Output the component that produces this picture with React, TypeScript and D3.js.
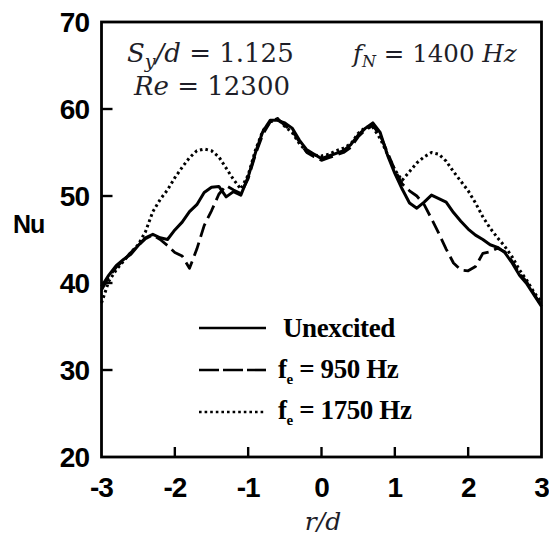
import React from "react";
import * as d3 from "d3";

const rd = [
  -3.0, -2.9, -2.8, -2.7, -2.6, -2.5, -2.4, -2.3, -2.2, -2.1,
  -2.0, -1.9, -1.8, -1.7, -1.6, -1.5, -1.4, -1.3, -1.2, -1.1,
  -1.0, -0.9, -0.8, -0.7, -0.6, -0.5, -0.4, -0.3, -0.2, -0.1,
  0.0, 0.1, 0.2, 0.3, 0.4, 0.5, 0.6, 0.7, 0.8, 0.9,
  1.0, 1.1, 1.2, 1.3, 1.4, 1.5, 1.6, 1.7, 1.8, 1.9,
  2.0, 2.1, 2.2, 2.3, 2.4, 2.5, 2.6, 2.7, 2.8, 2.9, 3.0,
];

const unexcited = [
  39.6, 40.9, 42.0, 42.7, 43.3, 44.3, 45.2, 45.6, 45.2, 45.0,
  46.1, 47.0, 48.2, 49.0, 50.4, 51.0, 51.1, 49.9, 50.5, 50.1,
  52.2, 55.0, 57.4, 58.7, 58.7, 58.4, 57.8, 56.4, 55.3, 54.8,
  54.3, 54.6, 54.9, 55.2, 55.9, 57.0, 57.8, 58.4, 57.3, 54.7,
  52.6, 50.8, 49.2, 48.6, 49.3, 50.1, 49.7, 49.3, 48.1, 47.1,
  46.2, 45.5, 45.0, 44.4, 44.1, 43.5, 42.3, 40.9, 39.9, 38.6, 37.3,
];

const fe950 = [
  39.2, 40.7, 41.8, 42.6, 43.5, 44.3, 45.1, 45.5, 45.0, 44.3,
  43.5, 43.1, 41.7, 43.9, 46.6, 48.3, 50.2, 51.2, 50.7, 50.3,
  52.0, 54.8, 57.1, 58.5, 58.9, 58.1, 57.5, 56.2, 55.0, 54.5,
  54.1, 54.4, 54.7, 55.0, 55.6, 56.8, 57.6, 58.1, 57.0, 55.0,
  53.0, 51.4, 50.6, 50.0, 49.0, 47.4, 45.7, 43.9, 42.3, 41.5,
  41.4, 41.9, 43.4, 43.6, 44.0, 43.6, 42.5, 41.1, 40.1, 38.7, 37.4,
];

const fe1750 = [
  37.7, 40.2, 41.5, 42.5, 43.5, 44.4, 45.9, 48.2, 49.6, 50.7,
  52.1, 53.3, 54.4, 55.2, 55.4, 55.2, 54.5, 53.2, 51.9, 50.8,
  52.4, 55.3, 57.5, 58.5, 58.9, 58.0, 57.3, 56.0, 55.1, 54.7,
  54.6, 54.8, 55.2, 55.5, 56.0, 57.2, 57.9, 57.9, 56.6, 54.8,
  53.0, 51.8, 52.8, 53.8, 54.5, 55.0, 54.8, 54.0, 52.8, 51.7,
  50.6, 49.2, 47.6, 46.3, 45.2, 44.2, 43.0, 41.5, 40.3, 38.9, 37.8,
];

const yTicks = [20, 30, 40, 50, 60, 70];
const xTicks = [-3, -2, -1, 0, 1, 2, 3];

const seriesNames = ["Unexcited", "950", "1750"];

export default function App() {
  const W = 549;
  const H = 537;
  const left = 101.5, right = 541.5, top = 22, bottom = 457;
  const x = d3.scaleLinear().domain([-3, 3]).range([left, right]);
  const y = d3.scaleLinear().domain([20, 70]).range([bottom, top]);

  const line = d3
    .line<number>()
    .x((_, i) => x(rd[i]))
    .y((d) => y(d))
    .curve(d3.curveLinear);

  const sans = "'Liberation Sans', Arial, sans-serif";
  const serif = "'Liberation Serif', 'Times New Roman', serif";
  const mathSerif = "'DejaVu Serif', 'Liberation Serif', serif";
  const annotColor = "#1e1e28";

  const series = [
    { data: unexcited, dash: undefined as string | undefined, w: 3 },
    { data: fe950, dash: "14,6", w: 2.8 },
    { data: fe1750, dash: "2.6,3", w: 3 },
  ];

  const legendY = [328, 370, 412];

  return (
    <svg
      width={W}
      height={H}
      viewBox={`0 0 ${W} ${H}`}
      style={{ position: "absolute", left: 0, top: 0, background: "#fff" }}
    >
      <rect x={0} y={0} width={W} height={H} fill="#fff" />
      {/* curves */}
      {series.map((s, i) => (
        <path
          key={seriesNames[i]}
          d={line(s.data) || ""}
          fill="none"
          stroke="#000"
          strokeWidth={s.w}
          strokeDasharray={s.dash}
          strokeLinejoin="round"
        />
      ))}

      {/* frame */}
      <rect
        x={left}
        y={top}
        width={right - left}
        height={bottom - top}
        fill="none"
        stroke="#000"
        strokeWidth={2.8}
      />

      {/* y ticks */}
      {yTicks.map((t) => (
        <g key={"y" + t}>
          {t > 20 && t < 70 && (
            <line x1={left} x2={left + 11} y1={y(t)} y2={y(t)} stroke="#000" strokeWidth={2.4} />
          )}
          <text
            x={89}
            y={y(t) + 10}
            textAnchor="end"
            fontFamily={sans}
            fontWeight="bold"
            fontSize={28}
            letterSpacing={-1}
            fill="#000"
          >
            {t}
          </text>
        </g>
      ))}

      {/* x ticks */}
      {xTicks.map((t) => (
        <g key={"x" + t}>
          {t > -3 && t < 3 && (
            <line x1={x(t)} x2={x(t)} y1={bottom} y2={bottom - 10} stroke="#000" strokeWidth={2.4} />
          )}
          <text
            x={x(t)}
            y={497}
            textAnchor="middle"
            fontFamily={sans}
            fontWeight="bold"
            fontSize={28}
            letterSpacing={-1}
            fill="#000"
          >
            {t}
          </text>
        </g>
      ))}

      {/* axis labels */}
      <text x={13} y={233} fontFamily={sans} fontWeight="bold" fontSize={25} letterSpacing={-1} fill="#000">
        Nu
      </text>
      <text x={323} y={530} textAnchor="middle" fontFamily={mathSerif} fontStyle="italic" fontSize={25} fill={annotColor}>
        r/d
      </text>

      {/* annotations */}
      <text x={127} y={62} fontFamily={mathSerif} fontSize={26} fill={annotColor}>
        <tspan fontStyle="italic">S</tspan>
        <tspan fontStyle="italic" fontSize={19} dy={6}>y</tspan>
        <tspan fontStyle="italic" dy={-6}>/d</tspan>
        <tspan> = 1.125</tspan>
      </text>
      <text x={134} y={95} fontFamily={mathSerif} fontSize={26} fill={annotColor}>
        <tspan fontStyle="italic">Re</tspan>
        <tspan> = 12300</tspan>
      </text>
      <text x={353} y={62} fontFamily={mathSerif} fontSize={24.5} fill={annotColor}>
        <tspan fontStyle="italic">f</tspan>
        <tspan fontStyle="italic" fontSize={16} dy={5}>N</tspan>
        <tspan dy={-5}> = 1400 </tspan>
        <tspan fontStyle="italic">Hz</tspan>
      </text>

      {/* legend */}
      {series.map((s, i) => (
        <line
          key={"leg" + i}
          x1={199}
          x2={266}
          y1={legendY[i]}
          y2={legendY[i]}
          stroke="#000"
          strokeWidth={2.6}
          strokeDasharray={i === 1 ? "20,4" : s.dash}
        />
      ))}
      <text x={283} y={337} fontFamily={serif} fontWeight="bold" fontSize={27} letterSpacing={-0.4} fill="#000">
        Unexcited
      </text>
      <text x={278} y={378} fontFamily={serif} fontWeight="bold" fontSize={27} letterSpacing={-0.4} fill="#000">
        <tspan>f</tspan>
        <tspan fontSize={15} dy={6}>e</tspan>
        <tspan dy={-6}> = 950 Hz</tspan>
      </text>
      <text x={278} y={419} fontFamily={serif} fontWeight="bold" fontSize={27} letterSpacing={-0.4} fill="#000">
        <tspan>f</tspan>
        <tspan fontSize={15} dy={6}>e</tspan>
        <tspan dy={-6}> = 1750 Hz</tspan>
      </text>
    </svg>
  );
}
